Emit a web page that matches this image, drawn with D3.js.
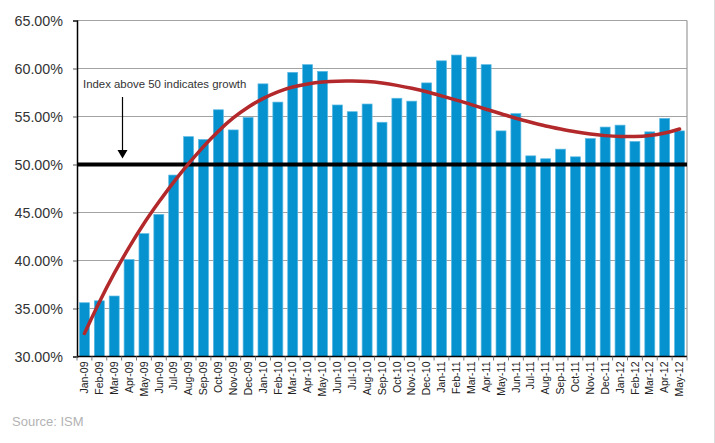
<!DOCTYPE html>
<html>
<head>
<meta charset="utf-8">
<script src="https://cdn.jsdelivr.net/npm/d3@7/dist/d3.min.js"></script>
<style>
  html, body { margin: 0; padding: 0; background: #fff; }
  svg { display: block; font-family: "Liberation Sans", Arial, sans-serif; }
</style>
</head>
<body>
<svg id="chart" width="715" height="443"></svg>
<script>
// ISM manufacturing index, monthly
const months = [
  "Jan-09","Feb-09","Mar-09","Apr-09","May-09","Jun-09","Jul-09","Aug-09","Sep-09","Oct-09","Nov-09","Dec-09",
  "Jan-10","Feb-10","Mar-10","Apr-10","May-10","Jun-10","Jul-10","Aug-10","Sep-10","Oct-10","Nov-10","Dec-10",
  "Jan-11","Feb-11","Mar-11","Apr-11","May-11","Jun-11","Jul-11","Aug-11","Sep-11","Oct-11","Nov-11","Dec-11",
  "Jan-12","Feb-12","Mar-12","Apr-12","May-12"
];
const pmi = [
  35.6, 35.8, 36.3, 40.1, 42.8, 44.8, 48.9, 52.9, 52.6, 55.7, 53.6, 54.9,
  58.4, 56.5, 59.6, 60.4, 59.7, 56.2, 55.5, 56.3, 54.4, 56.9, 56.6, 58.5,
  60.8, 61.4, 61.2, 60.4, 53.5, 55.3, 50.9, 50.6, 51.6, 50.8, 52.7, 53.9,
  54.1, 52.4, 53.4, 54.8, 53.5
];
// polynomial trend line, one value per month
const trend = [
  32.4, 35.7, 38.7, 41.4, 43.9, 46.1, 48.2, 50.1, 51.9, 53.5, 54.9, 56.0,
  56.9, 57.6, 58.1, 58.4, 58.6, 58.7, 58.7, 58.65, 58.5, 58.25, 57.95, 57.6,
  57.15, 56.7, 56.25, 55.75, 55.3, 54.8, 54.4, 54.0, 53.7, 53.4, 53.15, 53.0,
  52.9, 52.9, 53.0, 53.25, 53.7
];
const yTicks = [30, 35, 40, 45, 50, 55, 60, 65];
const growthLine = 50;
const noteText = "Index above 50 indicates growth";
const sourceText = "Source: ISM";

const svg = d3.select("#chart");
const plotL = 77, plotR = 687, plotT = 20.5, plotB = 356.5;

const x = d3.scaleBand().domain(months).range([plotL, plotR]).paddingInner(0.33).paddingOuter(0.165);
const y = d3.scaleLinear().domain([30, 65]).range([plotB, plotT]);

// horizontal gridlines
svg.append("g")
  .selectAll("line").data(yTicks.filter(d => d > 30)).join("line")
  .attr("x1", plotL).attr("x2", plotR)
  .attr("y1", d => y(d)).attr("y2", d => y(d))
  .attr("stroke", "#a3a3a3").attr("stroke-width", 1.2);

// right frame edge
svg.append("line")
  .attr("x1", plotR).attr("x2", plotR).attr("y1", plotT).attr("y2", plotB)
  .attr("stroke", "#9a9a9a").attr("stroke-width", 1.2);

// bars
svg.append("g")
  .selectAll("rect").data(pmi).join("rect")
  .attr("x", (d, i) => x(months[i]))
  .attr("width", x.bandwidth())
  .attr("y", d => y(d))
  .attr("height", d => y(30) - y(d))
  .attr("fill", "#0592cf")
  .attr("stroke", "#5cb9e3")
  .attr("stroke-width", 0.7);

// 50% threshold
svg.append("line")
  .attr("x1", plotL).attr("x2", plotR)
  .attr("y1", y(growthLine)).attr("y2", y(growthLine))
  .attr("stroke", "#000").attr("stroke-width", 4);

// trend line
const line = d3.line()
  .x((d, i) => x(months[i]) + x.bandwidth() / 2)
  .y(d => y(d))
  .curve(d3.curveBasis);
svg.append("path")
  .datum(trend)
  .attr("d", line)
  .attr("fill", "none")
  .attr("stroke", "#b3282a")
  .attr("stroke-width", 3.5)
  .attr("stroke-linecap", "round");

// y axis
const yAxis = d3.axisLeft(y).tickValues(yTicks).tickSize(4).tickPadding(10)
  .tickFormat(d => d.toFixed(2) + "%");
const gy = svg.append("g").attr("transform", `translate(${plotL},0)`).call(yAxis);
gy.select(".domain").attr("stroke", "#000").attr("stroke-width", 1.5);
gy.selectAll(".tick line").attr("stroke", "#555");
gy.selectAll(".tick text").attr("font-size", 14.3).attr("fill", "#333")
  .attr("font-family", "Liberation Sans, Arial, sans-serif");

// x axis
const xAxis = d3.axisBottom(x).tickSize(0).tickPadding(0);
const gx = svg.append("g").attr("transform", `translate(0,${plotB})`).call(xAxis);
gx.select(".domain").remove();
gx.selectAll(".tick text")
  .attr("font-size", 10.5).attr("fill", "#222")
  .attr("font-family", "Liberation Sans, Arial, sans-serif")
  .attr("text-anchor", "end")
  .attr("transform", "rotate(-90)")
  .attr("x", -5).attr("y", 0).attr("dy", "0.35em");
svg.append("line")
  .attr("x1", plotL).attr("x2", plotR).attr("y1", plotB).attr("y2", plotB)
  .attr("stroke", "#000").attr("stroke-width", 1.5);
// tick marks between months
const step = x.step();
svg.append("g")
  .selectAll("line").data(months).join("line")
  .attr("x1", (d) => x(d) - x.paddingInner() * step / 2)
  .attr("x2", (d) => x(d) - x.paddingInner() * step / 2)
  .attr("y1", plotB).attr("y2", plotB + 4)
  .attr("stroke", "#777").attr("stroke-width", 1);
svg.append("line")
  .attr("x1", plotR).attr("x2", plotR).attr("y1", plotB).attr("y2", plotB + 4)
  .attr("stroke", "#777");

// annotation and arrow
svg.append("text")
  .attr("x", 83).attr("y", 87.5)
  .attr("font-size", 11.4).attr("fill", "#333")
  .text(noteText);
svg.append("line")
  .attr("x1", 122.5).attr("x2", 122.5).attr("y1", 97).attr("y2", 151)
  .attr("stroke", "#000").attr("stroke-width", 1.2);
svg.append("path")
  .attr("d", "M117.5,150 L127.5,150 L122.5,158.5 Z")
  .attr("fill", "#000");

// source note
svg.append("text")
  .attr("x", 12).attr("y", 426)
  .attr("font-size", 13).attr("fill", "#b3b3b3")
  .text(sourceText);

// outer edge
svg.append("line")
  .attr("x1", 714.5).attr("x2", 714.5).attr("y1", 0).attr("y2", 443)
  .attr("stroke", "#dcdcdc").attr("stroke-width", 1);
</script>
</body>
</html>
